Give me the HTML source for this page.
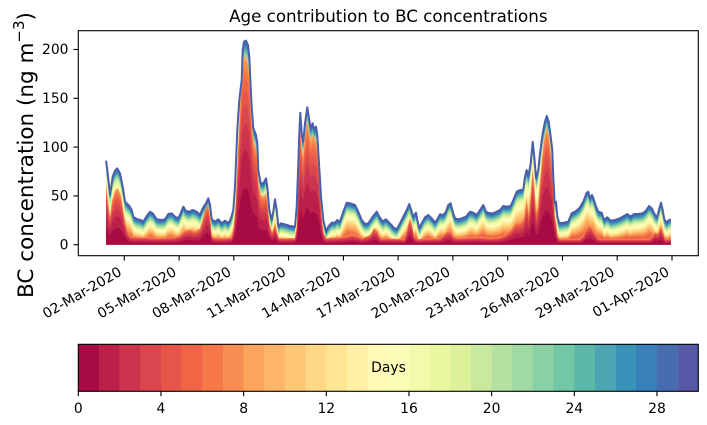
<!DOCTYPE html>
<html>
<head>
<meta charset="utf-8">
<style>
  html, body { margin: 0; padding: 0; background: #ffffff; }
  svg { display: block; }
  text { font-family: "DejaVu Sans", "Liberation Sans", sans-serif; fill: #000; }
</style>
</head>
<body>
<svg width="707" height="425" viewBox="0 0 707 425" xmlns="http://www.w3.org/2000/svg">
  <defs>
    <clipPath id="clip">
      <rect x="78.3" y="30.7" width="620" height="214.1"/>
    </clipPath>
    <path id="T" d="M106,244.7 L106,160.7 107.3,170 110,195 112.7,176.7 115,170.7 117.3,168.3 120,173.3 122.7,186.7 125,201.7 126.7,203.3 129.3,206 131.7,210 133.3,216.7 136.7,219 140.7,220 143.3,221.7 146.7,216 150,211.7 152.7,213.3 156.7,219.3 161.7,220 165,219.3 168.3,214 171.7,213.3 175,216.7 178.3,218.3 180.7,213.3 183.3,206.7 186,211 189.3,211.7 192.7,210 196.7,211.7 200,215 202.7,208.3 206,203.3 208.3,198.3 210,205 211.7,219.3 215,221.7 218.3,219.3 221.7,223.3 225,220.7 228.3,223.3 231,218.3 233.3,210 235,186.7 237.3,130 239.3,100 241.7,80 242.7,50 244,41.7 246,40.7 248,45 249.3,56.7 250,73.3 251.7,106.7 253.3,128.3 256,135 257.3,143.3 258.3,170 260.7,183.3 263.3,183.3 266,178.3 267.3,186.7 269.3,210 271.7,220 273.3,211.7 275,199.3 276.7,210 278.3,226.7 280.7,223.3 285,224.3 290,226 295,226.7 296.7,206.7 298.3,163.3 299.3,133.3 300.3,112.7 302,136.7 303.3,141.7 305,123.3 307.3,107.3 309,118.3 310.7,128.3 312.7,123.3 314,129.3 316,126.7 317.3,135 319,163.3 321,196.7 323.3,220 326,231.7 328.3,226.7 331.7,222.7 335,222.7 337.3,220 340,221.7 343.3,211.7 346.7,202.7 350,203.3 355,205 358.3,211.7 361.7,220 365,224 368.3,223.3 372.7,216.7 376.7,211.7 379.3,216.7 382.7,221.7 386,219.3 389.3,222.7 393.3,227.3 396.7,229.3 400,223.3 403.3,216.7 406.7,210 409.3,204 411.7,211.7 413.3,216.7 416,212.7 417.3,220 419.3,228.3 421.7,223.3 425,217.3 428.3,215 431.7,218.3 435,222.7 437.3,219.3 440,214.3 443.3,215 446,211.7 448.3,205 450.7,203.3 452.7,211.7 455,218.3 458.3,219.3 461.7,218.3 466,216.7 470,211.7 473.3,212.7 476.7,215 480,210 483.3,205 486,211.7 489.3,213.3 493.3,213.3 496.7,211.7 500,210 503.3,206 506.7,206.7 510.7,206 513.3,200 516.7,191.7 520,190 523.3,189.3 525,176.7 526.7,170 528.3,176.7 530.7,163.3 532.7,141.7 534.3,156.7 536,178.3 538.3,170 540,153.3 542.7,133.3 545,121.7 546.7,116 548.7,121.7 550.7,136.7 552.3,150 553.3,176.7 554.7,203.3 556,201.7 557.3,216.7 559.3,223.3 563.3,222.7 568.3,221.7 571.7,213.3 575,211.7 579.3,208.3 583.3,201.7 586.7,192.7 588.3,191.7 590,198.3 592,195 594,200 596,206.7 598.3,211.7 601.7,212.7 604,220 607.3,217.3 610.7,220.7 615,220 620,218.3 624,216 627.3,214 630.7,216.7 634,214 638.3,214 642.7,213.3 646,210.7 649,206 651.7,208.3 655,215 657.3,216.7 659.3,208.3 661,202.7 662.7,210 664.3,219.3 666.7,222.7 669,220 670.7,219.3 L670.7,244.7 Z"/>
    <path id="R" d="M106,244.7 L106,183 108,200 110,217 112,200 115,190 118,188 121,195 124,215 127,230 130,236 135,237 145,237 160,238 175,237 180,235 185,230 190,229 195,231 200,228 203,218 206,207 208,204 210,215 211.7,236 215,238 225,238 232,237 234,225 236,200 238,150 240,110 242,70 244,57 246,56 248,62 249.3,75 250,90 251.7,120 253.3,140 256,148 257.3,158 258.3,182 261,195 264,196 266,193 267.3,200 269.3,222 272,232 275,224 277,232 279,238 295,238 297,225 298.3,178 300.3,128 302,150 303.3,155 305,136 307.3,120 309,131 311,140 313,135 316,140 318,152 319.5,178 321,208 323.3,232 326,238 340,237 345,236 352,234 358,236 362,238 370,235 374,228 377,230 380,238 405,239 408,225 410,218 412,224 414,236 418,239 440,238 446,232 450,230 453,236 458,238 470,237 480,237 490,238 500,237 506,234 512,228 516,222 520,222 524,218 526.7,200 529,215 531,190 532.7,168 534.3,185 536,212 538.3,205 540,180 542.7,150 545,134 546.7,128 548.7,134 550.7,150 552.3,165 553.3,190 554.7,215 556,222 557.3,236 560,239 580,239 584,234 587,227 590,224 592,227 595,233 598,238 602,239 650,239 655,232 658,233 661,226 663,232 665,239 670.7,239 L670.7,244.7 Z"/>
  </defs>

  <!-- Title -->
  <text x="388.3" y="22" font-size="16.7" text-anchor="middle">Age contribution to BC concentrations</text>

  <!-- Stacked areas -->
  <g clip-path="url(#clip)">
    <use href="#T" fill="#5759a6"/>
    <use href="#T" fill="#486cb0" transform="matrix(1 0 0 0.995 0 1.97)"/>
    <use href="#T" fill="#397fb9" transform="matrix(1 0 0 0.99 0 3.95)"/>
    <use href="#T" fill="#3b92b9" transform="matrix(1 0 0 0.985 0 5.92)"/>
    <use href="#T" fill="#4ca5b1" transform="matrix(1 0 0 0.98 0 7.89)"/>
    <use href="#T" fill="#5db8a9" transform="matrix(1 0 0 0.974 0 9.90)"/>
    <use href="#T" fill="#72c7a5" transform="matrix(1 0 0 0.9675 0 12.03)"/>
    <use href="#T" fill="#89d0a5" transform="matrix(1 0 0 0.961 0 14.15)"/>
    <use href="#T" fill="#a0d9a4" transform="matrix(1 0 0 0.955 0 16.16)"/>
    <use href="#T" fill="#b5e1a2" transform="matrix(1 0 0 0.949 0 18.17)"/>
    <use href="#T" fill="#c9e99e" transform="matrix(1 0 0 0.9425 0 20.29)"/>
    <use href="#T" fill="#dcf19a" transform="matrix(1 0 0 0.936 0 22.42)"/>
    <use href="#T" fill="#eaf79f" transform="matrix(1 0 0 0.93 0 24.43)"/>
    <use href="#T" fill="#f3faac" transform="matrix(1 0 0 0.894 0 33.24)"/>
    <use href="#T" fill="#fbfdb9" transform="matrix(1 0 0 0.859 0 41.80)"/>
    <use href="#T" fill="#fffab6" transform="matrix(1 0 0 0.823 0 50.61)"/>
    <use href="#T" fill="#fff0a5" transform="matrix(1 0 0 0.787 0 59.42)"/>
    <use href="#T" fill="#fee594" transform="matrix(1 0 0 0.751 0 68.23)"/>
    <use href="#T" fill="#fed884" transform="matrix(1 0 0 0.716 0 76.79)"/>
    <use href="#T" fill="#fec776" transform="matrix(1 0 0 0.68 0 85.60)"/>
    <use href="#T" fill="#fdb668" transform="matrix(1 0 0 0.608 0 102.10)"/>
    <use href="#T" fill="#fca35c" transform="matrix(1 0 0 0.536 0 118.60)"/>
    <use href="#T" fill="#f98e52" transform="matrix(1 0 0 0.464 0 135.10)"/>
    <use href="#T" fill="#f67848" transform="matrix(1 0 0 0.392 0 151.60)"/>
    <use href="#T" fill="#ef6545" transform="matrix(1 0 0 0.32 0 168.10)"/>

    <use href="#R" fill="#fca35c"/>
    <use href="#R" fill="#f98e52" transform="matrix(1 0 0 0.97 0 7.34)"/>
    <use href="#R" fill="#f67848" transform="matrix(1 0 0 0.93 0 17.13)"/>
    <use href="#R" fill="#ef6545" transform="matrix(1 0 0 0.88 0 29.36)"/>
    <use href="#R" fill="#e55649" transform="matrix(1 0 0 0.82 0 44.05)"/>
    <use href="#R" fill="#da464d" transform="matrix(1 0 0 0.74 0 63.62)"/>
    <use href="#R" fill="#cc344d" transform="matrix(1 0 0 0.64 0 88.09)"/>
    <use href="#R" fill="#ba2049" transform="matrix(1 0 0 0.5 0 122.35)"/>
    <use href="#R" fill="#a70b44" transform="matrix(1 0 0 0.3 0 171.29)"/>

    <polyline fill="none" stroke="#4b5ea9" stroke-width="2" stroke-linejoin="round" points="106,160.7 107.3,170 110,195 112.7,176.7 115,170.7 117.3,168.3 120,173.3 122.7,186.7 125,201.7 126.7,203.3 129.3,206 131.7,210 133.3,216.7 136.7,219 140.7,220 143.3,221.7 146.7,216 150,211.7 152.7,213.3 156.7,219.3 161.7,220 165,219.3 168.3,214 171.7,213.3 175,216.7 178.3,218.3 180.7,213.3 183.3,206.7 186,211 189.3,211.7 192.7,210 196.7,211.7 200,215 202.7,208.3 206,203.3 208.3,198.3 210,205 211.7,219.3 215,221.7 218.3,219.3 221.7,223.3 225,220.7 228.3,223.3 231,218.3 233.3,210 235,186.7 237.3,130 239.3,100 241.7,80 242.7,50 244,41.7 246,40.7 248,45 249.3,56.7 250,73.3 251.7,106.7 253.3,128.3 256,135 257.3,143.3 258.3,170 260.7,183.3 263.3,183.3 266,178.3 267.3,186.7 269.3,210 271.7,220 273.3,211.7 275,199.3 276.7,210 278.3,226.7 280.7,223.3 285,224.3 290,226 295,226.7 296.7,206.7 298.3,163.3 299.3,133.3 300.3,112.7 302,136.7 303.3,141.7 305,123.3 307.3,107.3 309,118.3 310.7,128.3 312.7,123.3 314,129.3 316,126.7 317.3,135 319,163.3 321,196.7 323.3,220 326,231.7 328.3,226.7 331.7,222.7 335,222.7 337.3,220 340,221.7 343.3,211.7 346.7,202.7 350,203.3 355,205 358.3,211.7 361.7,220 365,224 368.3,223.3 372.7,216.7 376.7,211.7 379.3,216.7 382.7,221.7 386,219.3 389.3,222.7 393.3,227.3 396.7,229.3 400,223.3 403.3,216.7 406.7,210 409.3,204 411.7,211.7 413.3,216.7 416,212.7 417.3,220 419.3,228.3 421.7,223.3 425,217.3 428.3,215 431.7,218.3 435,222.7 437.3,219.3 440,214.3 443.3,215 446,211.7 448.3,205 450.7,203.3 452.7,211.7 455,218.3 458.3,219.3 461.7,218.3 466,216.7 470,211.7 473.3,212.7 476.7,215 480,210 483.3,205 486,211.7 489.3,213.3 493.3,213.3 496.7,211.7 500,210 503.3,206 506.7,206.7 510.7,206 513.3,200 516.7,191.7 520,190 523.3,189.3 525,176.7 526.7,170 528.3,176.7 530.7,163.3 532.7,141.7 534.3,156.7 536,178.3 538.3,170 540,153.3 542.7,133.3 545,121.7 546.7,116 548.7,121.7 550.7,136.7 552.3,150 553.3,176.7 554.7,203.3 556,201.7 557.3,216.7 559.3,223.3 563.3,222.7 568.3,221.7 571.7,213.3 575,211.7 579.3,208.3 583.3,201.7 586.7,192.7 588.3,191.7 590,198.3 592,195 594,200 596,206.7 598.3,211.7 601.7,212.7 604,220 607.3,217.3 610.7,220.7 615,220 620,218.3 624,216 627.3,214 630.7,216.7 634,214 638.3,214 642.7,213.3 646,210.7 649,206 651.7,208.3 655,215 657.3,216.7 659.3,208.3 661,202.7 662.7,210 664.3,219.3 666.7,222.7 669,220 670.7,219.3"/>
  </g>

  <!-- Axes frame -->
  <rect x="78.3" y="30.7" width="620" height="225" fill="none" stroke="#000" stroke-width="1.1"/>

  <!-- Y ticks -->
  <g stroke="#000" stroke-width="1.1">
    <line x1="73.4" y1="244.7" x2="78.3" y2="244.7"/>
    <line x1="73.4" y1="195.9" x2="78.3" y2="195.9"/>
    <line x1="73.4" y1="147.1" x2="78.3" y2="147.1"/>
    <line x1="73.4" y1="98.3" x2="78.3" y2="98.3"/>
    <line x1="73.4" y1="49.5" x2="78.3" y2="49.5"/>
  </g>
  <g font-size="13.9" text-anchor="end">
    <text x="68.5" y="249.4">0</text>
    <text x="68.5" y="200.6">50</text>
    <text x="68.5" y="151.8">100</text>
    <text x="68.5" y="103">150</text>
    <text x="68.5" y="54.2">200</text>
  </g>

  <!-- Y label -->
  <text x="33" y="155" font-size="21.5" text-anchor="middle" transform="rotate(-90 33 155)">BC concentration (ng m<tspan font-size="15" dy="-9">−3</tspan><tspan dy="9">)</tspan></text>

  <!-- X ticks -->
  <g stroke="#000" stroke-width="1.1">
    <line x1="124.3" y1="255.7" x2="124.3" y2="260.6"/>
    <line x1="179.1" y1="255.7" x2="179.1" y2="260.6"/>
    <line x1="233.8" y1="255.7" x2="233.8" y2="260.6"/>
    <line x1="288.6" y1="255.7" x2="288.6" y2="260.6"/>
    <line x1="343.4" y1="255.7" x2="343.4" y2="260.6"/>
    <line x1="398.1" y1="255.7" x2="398.1" y2="260.6"/>
    <line x1="452.9" y1="255.7" x2="452.9" y2="260.6"/>
    <line x1="507.7" y1="255.7" x2="507.7" y2="260.6"/>
    <line x1="562.5" y1="255.7" x2="562.5" y2="260.6"/>
    <line x1="617.2" y1="255.7" x2="617.2" y2="260.6"/>
    <line x1="672.0" y1="255.7" x2="672.0" y2="260.6"/>
  </g>
  <g font-size="13.9" text-anchor="end">
    <text x="122.65" y="274.6" transform="rotate(-30 122.65 274.6)">02-Mar-2020</text>
    <text x="177.45" y="274.6" transform="rotate(-30 177.45 274.6)">05-Mar-2020</text>
    <text x="232.15" y="274.6" transform="rotate(-30 232.15 274.6)">08-Mar-2020</text>
    <text x="286.95" y="274.6" transform="rotate(-30 286.95 274.6)">11-Mar-2020</text>
    <text x="341.75" y="274.6" transform="rotate(-30 341.75 274.6)">14-Mar-2020</text>
    <text x="396.45" y="274.6" transform="rotate(-30 396.45 274.6)">17-Mar-2020</text>
    <text x="451.25" y="274.6" transform="rotate(-30 451.25 274.6)">20-Mar-2020</text>
    <text x="506.05" y="274.6" transform="rotate(-30 506.05 274.6)">23-Mar-2020</text>
    <text x="560.85" y="274.6" transform="rotate(-30 560.85 274.6)">26-Mar-2020</text>
    <text x="615.55" y="274.6" transform="rotate(-30 615.55 274.6)">29-Mar-2020</text>
    <text x="670.35" y="274.6" transform="rotate(-30 670.35 274.6)">01-Apr-2020</text>
  </g>

  <!-- Colorbar -->
  <g>
    <rect x="78.30" y="344.3" width="20.9" height="47" fill="#a70b44"/>
    <rect x="98.97" y="344.3" width="20.9" height="47" fill="#ba2049"/>
    <rect x="119.63" y="344.3" width="20.9" height="47" fill="#cc344d"/>
    <rect x="140.30" y="344.3" width="20.9" height="47" fill="#da464d"/>
    <rect x="160.97" y="344.3" width="20.9" height="47" fill="#e55649"/>
    <rect x="181.63" y="344.3" width="20.9" height="47" fill="#ef6545"/>
    <rect x="202.30" y="344.3" width="20.9" height="47" fill="#f67848"/>
    <rect x="222.97" y="344.3" width="20.9" height="47" fill="#f98e52"/>
    <rect x="243.63" y="344.3" width="20.9" height="47" fill="#fca35c"/>
    <rect x="264.30" y="344.3" width="20.9" height="47" fill="#fdb668"/>
    <rect x="284.97" y="344.3" width="20.9" height="47" fill="#fec776"/>
    <rect x="305.63" y="344.3" width="20.9" height="47" fill="#fed884"/>
    <rect x="326.30" y="344.3" width="20.9" height="47" fill="#fee594"/>
    <rect x="346.97" y="344.3" width="20.9" height="47" fill="#fff0a5"/>
    <rect x="367.63" y="344.3" width="20.9" height="47" fill="#fffab6"/>
    <rect x="388.30" y="344.3" width="20.9" height="47" fill="#fbfdb9"/>
    <rect x="408.97" y="344.3" width="20.9" height="47" fill="#f3faac"/>
    <rect x="429.63" y="344.3" width="20.9" height="47" fill="#eaf79f"/>
    <rect x="450.30" y="344.3" width="20.9" height="47" fill="#dcf19a"/>
    <rect x="470.97" y="344.3" width="20.9" height="47" fill="#c9e99e"/>
    <rect x="491.63" y="344.3" width="20.9" height="47" fill="#b5e1a2"/>
    <rect x="512.30" y="344.3" width="20.9" height="47" fill="#a0d9a4"/>
    <rect x="532.97" y="344.3" width="20.9" height="47" fill="#89d0a5"/>
    <rect x="553.63" y="344.3" width="20.9" height="47" fill="#72c7a5"/>
    <rect x="574.30" y="344.3" width="20.9" height="47" fill="#5db8a9"/>
    <rect x="594.97" y="344.3" width="20.9" height="47" fill="#4ca5b1"/>
    <rect x="615.63" y="344.3" width="20.9" height="47" fill="#3b92b9"/>
    <rect x="636.30" y="344.3" width="20.9" height="47" fill="#397fb9"/>
    <rect x="656.97" y="344.3" width="20.9" height="47" fill="#486cb0"/>
    <rect x="677.63" y="344.3" width="20.67" height="47" fill="#5759a6"/>
  </g>
  <rect x="78.3" y="344.3" width="620" height="47" fill="none" stroke="#000" stroke-width="1.1"/>
  <text x="388.5" y="372" font-size="13.9" text-anchor="middle">Days</text>
  <g stroke="#000" stroke-width="1.1">
    <line x1="78.3" y1="391.3" x2="78.3" y2="396.2"/>
    <line x1="160.97" y1="391.3" x2="160.97" y2="396.2"/>
    <line x1="243.63" y1="391.3" x2="243.63" y2="396.2"/>
    <line x1="326.3" y1="391.3" x2="326.3" y2="396.2"/>
    <line x1="408.97" y1="391.3" x2="408.97" y2="396.2"/>
    <line x1="491.63" y1="391.3" x2="491.63" y2="396.2"/>
    <line x1="574.3" y1="391.3" x2="574.3" y2="396.2"/>
    <line x1="656.97" y1="391.3" x2="656.97" y2="396.2"/>
  </g>
  <g font-size="13.9" text-anchor="middle">
    <text x="78.3" y="413">0</text>
    <text x="160.97" y="413">4</text>
    <text x="243.63" y="413">8</text>
    <text x="326.3" y="413">12</text>
    <text x="408.97" y="413">16</text>
    <text x="491.63" y="413">20</text>
    <text x="574.3" y="413">24</text>
    <text x="656.97" y="413">28</text>
  </g>
</svg>
</body>
</html>
